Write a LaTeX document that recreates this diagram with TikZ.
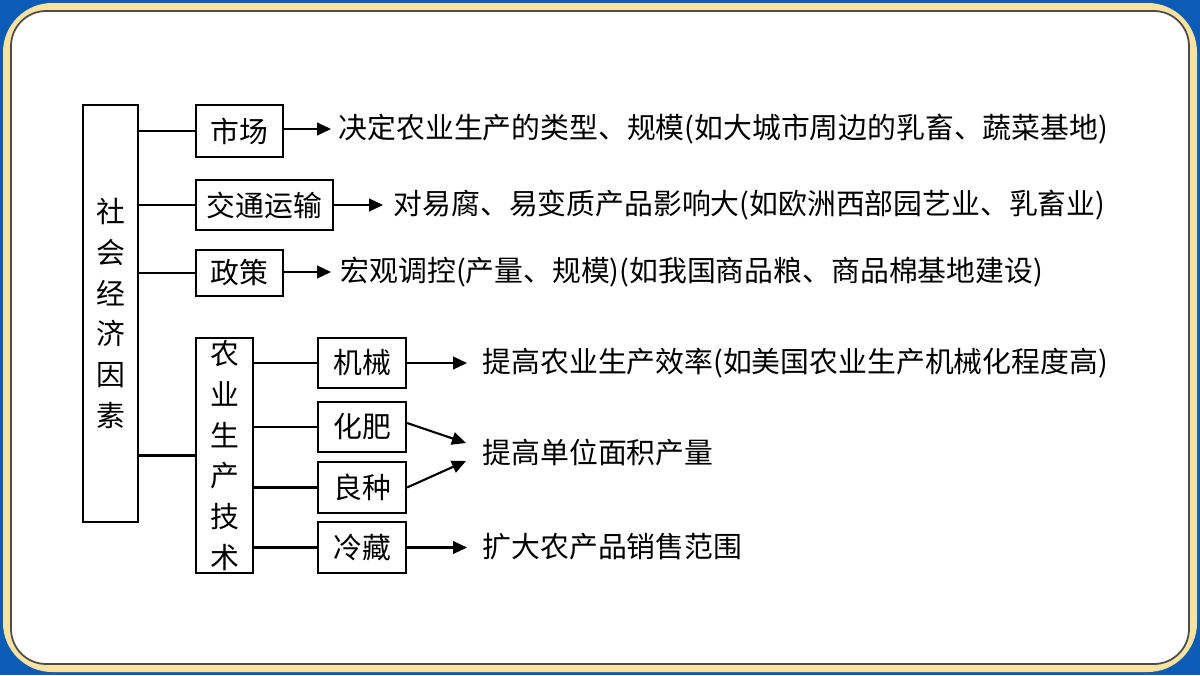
\documentclass[tikz,border=0pt]{standalone}
\usepackage{fontspec}
\newfontfamily\cjk{Noto Sans CJK SC}
\usetikzlibrary{arrows.meta, positioning}
\definecolor{framebg}{RGB}{12,92,182}
\definecolor{framecream}{RGB}{250,226,160}

\begin{document}
\begin{tikzpicture}[
    x=0.01cm, y=-0.01cm,
    font=\cjk\fontsize{8.2pt}{11.6pt}\selectfont,
    >={Triangle[length=4pt,width=3.6pt]},
    catbox/.style={draw, line width=0.6pt, inner sep=0pt, align=center},
    itemtext/.style={anchor=west, inner sep=0pt},
    link/.style={line width=0.6pt},
    arrow/.style={->, line width=0.6pt}
]

% ========== FRAME ==========
\fill[framebg] (0,0) rectangle (1200,675);
\fill[framecream, rounded corners=14pt] (3,3) rectangle (1197,672);
\draw[black!70, fill=white, line width=0.5pt, rounded corners=10pt] (11,11) rectangle (1189,664);

% ========== NODES ==========
\node[catbox, minimum width=0.55cm, minimum height=4.17cm] (social) at (110.5, 313.5) {社\\会\\经\\济\\因\\素};

\node[catbox, minimum width=0.87cm, minimum height=0.52cm] (market) at (239.5, 131) {市场};
\node[catbox, minimum width=1.37cm, minimum height=0.50cm] (traffic) at (264.5, 205) {交通运输};
\node[catbox, minimum width=0.87cm, minimum height=0.46cm] (policy) at (239.5, 273) {政策};
\node[catbox, minimum width=0.57cm, minimum height=2.35cm] (tech) at (224.5, 455.5) {农\\业\\生\\产\\技\\术};

\node[catbox, minimum width=0.88cm, minimum height=0.50cm] (machine) at (362, 363) {机械};
\node[catbox, minimum width=0.88cm, minimum height=0.50cm] (fert) at (362, 427) {化肥};
\node[catbox, minimum width=0.88cm, minimum height=0.51cm] (seed) at (362, 487.5) {良种};
\node[catbox, minimum width=0.88cm, minimum height=0.51cm] (cold) at (362, 547.5) {冷藏};

\node[itemtext] (t1) at (338, 129) {决定农业生产的类型、规模(如大城市周边的乳畜、蔬菜基地)};
\node[itemtext] (t2) at (393, 205) {对易腐、易变质产品影响大(如欧洲西部园艺业、乳畜业)};
\node[itemtext] (t3) at (340, 272) {宏观调控(产量、规模)(如我国商品粮、商品棉基地建设)};
\node[itemtext] (t4) at (482, 363) {提高农业生产效率(如美国农业生产机械化程度高)};
\node[itemtext] (t5) at (482, 453) {提高单位面积产量};
\node[itemtext] (t6) at (482, 547) {扩大农产品销售范围};

% ========== CONNECTORS ==========
\draw[link] (social.east |- market.west) -- (market.west);
\draw[link] (social.east |- traffic.west) -- (traffic.west);
\draw[link] (social.east |- policy.west) -- (policy.west);
\draw[link] (social.east |- tech.west) -- (tech.west);

\draw[link] (tech.east |- machine.west) -- (machine.west);
\draw[link] (tech.east |- fert.west) -- (fert.west);
\draw[link] (tech.east |- seed.west) -- (seed.west);
\draw[link] (tech.east |- cold.west) -- (cold.west);

\draw[arrow] (market.east |- t1.west) -- ++(47,0);
\draw[arrow] (traffic.east) -- ++(49,0);
\draw[arrow] (policy.east |- t3.west) -- ++(47,0);
\draw[arrow] (machine.east) -- ++(60,0);
\coordinate (fin) at (466, 443);
\coordinate (sin) at (466, 461);
\draw[arrow] (fert.east |- 0,423) -- (fin);
\draw[arrow] (seed.east) -- (sin);
\draw[arrow] (cold.east) -- ++(60,0);

\end{tikzpicture}
\end{document}
